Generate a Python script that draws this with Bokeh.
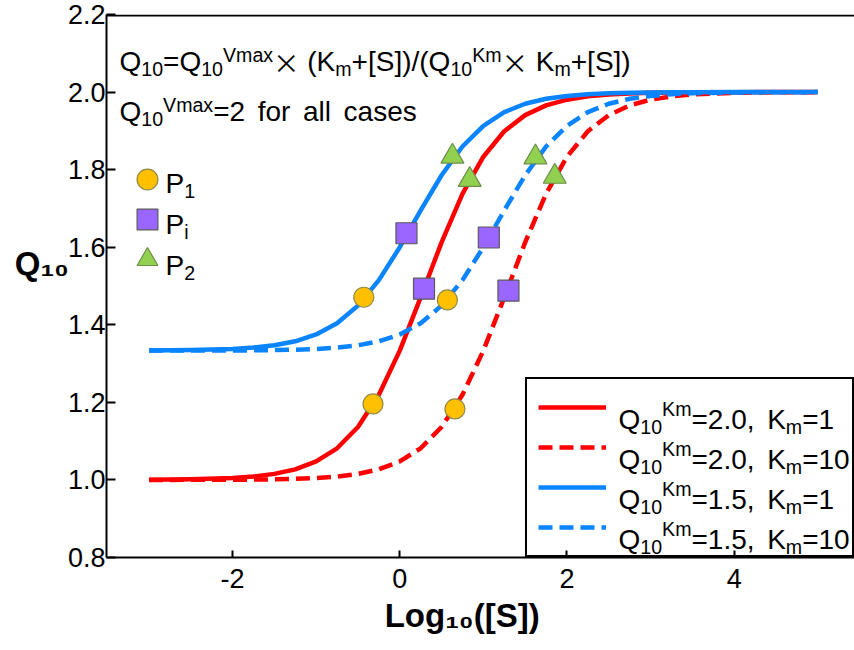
from bokeh.plotting import figure
from bokeh.models import (Range1d, Label, Legend, LegendItem, Span,
                          FixedTicker, NumeralTickFormatter)
from bokeh.embed import file_html
from bokeh.resources import INLINE

# ---------------- data ----------------
log_s = [-3.0, -2.5, -2.0, -1.75, -1.5, -1.25, -1.0, -0.75, -0.5, -0.25, 0.0, 0.25, 0.5, 0.75,
         1.0, 1.25, 1.5, 1.75, 2.0, 2.25, 2.5, 2.75, 3.0, 3.25, 3.5, 4.0, 4.5, 5.0]
q_km20_k1 = [1.0005, 1.0016, 1.0050, 1.0088, 1.0156, 1.0273, 1.0476, 1.0816, 1.1365, 1.2194,
             1.3333, 1.4706, 1.6126, 1.7376, 1.8333, 1.8989, 1.9405, 1.9657, 1.9804, 1.9889,
             1.9937, 1.9965, 1.9980, 1.9989, 1.9994, 1.9998, 1.9999, 2.0000]
q_km20_k10 = [1.0000, 1.0002, 1.0005, 1.0009, 1.0016, 1.0028, 1.0050, 1.0088, 1.0156, 1.0273,
              1.0476, 1.0816, 1.1365, 1.2194, 1.3333, 1.4706, 1.6126, 1.7376, 1.8333, 1.8989,
              1.9405, 1.9657, 1.9804, 1.9889, 1.9937, 1.9980, 1.9994, 1.9998]
q_km15_k1 = [1.3338, 1.3347, 1.3377, 1.3412, 1.3471, 1.3574, 1.3750, 1.4040, 1.4494, 1.5151,
             1.6000, 1.6949, 1.7855, 1.8596, 1.9130, 1.9481, 1.9698, 1.9827, 1.9901, 1.9944,
             1.9969, 1.9982, 1.9990, 1.9994, 1.9997, 1.9999, 2.0000, 2.0000]
q_km15_k10 = [1.3334, 1.3335, 1.3338, 1.3341, 1.3347, 1.3357, 1.3377, 1.3412, 1.3471, 1.3574,
              1.3750, 1.4040, 1.4494, 1.5151, 1.6000, 1.6949, 1.7855, 1.8596, 1.9130, 1.9481,
              1.9698, 1.9827, 1.9901, 1.9944, 1.9969, 1.9990, 1.9997, 1.9999]

p1_x = [-0.43, 0.57, -0.32, 0.66]
p1_y = [1.471, 1.464, 1.196, 1.183]
pi_x = [0.08, 0.29, 1.065, 1.30]
pi_y = [1.636, 1.493, 1.625, 1.488]
p2_x = [0.63, 0.837, 1.623, 1.854]
p2_y = [1.834, 1.774, 1.832, 1.782]

x_ticks = [-2, 0, 2, 4]
x_tick_labels = ["-2", "0", "2", "4"]
y_ticks = [0.8, 1.0, 1.2, 1.4, 1.6, 1.8, 2.0, 2.2]

# ---------------- figure ----------------
W, H = 854, 644
FL, FT = 106, 14          # frame left / top inside canvas
FW, FH = W - FL, 543      # frame size
XS = -3.508
XE = XS + FW / 83.6
YS, YE = 0.8, 2.2

p = figure(width=W, height=H, output_backend="svg", toolbar_location=None,
           x_range=Range1d(XS, XE), y_range=Range1d(YS, YE),
           min_border_left=FL, min_border_right=0, min_border_top=FT,
           min_border_bottom=H - FT - FH)
p.outline_line_color = None
p.xgrid.visible = False
p.ygrid.visible = False
p.background_fill_color = "white"
p.border_fill_color = "white"

for ax in (p.xaxis[0], p.yaxis[0]):
    ax.axis_line_width = 2
    ax.axis_line_color = "black"
    ax.major_tick_line_width = 2
    ax.major_tick_line_color = "black"
    ax.minor_tick_line_color = None
    ax.major_tick_out = 0
    ax.major_label_text_font = "Liberation Sans"
    ax.major_label_text_font_size = "27px"
    ax.major_label_text_color = "black"
    ax.axis_label_text_font = "Liberation Sans"
    ax.axis_label_text_font_style = "bold"
    ax.axis_label_text_font_size = "33px"
    ax.axis_label_text_color = "black"

p.xaxis.ticker = FixedTicker(ticks=x_ticks)
p.xaxis.major_label_overrides = dict(zip(x_ticks, x_tick_labels))
p.xaxis.major_tick_in = 7
p.xaxis.major_label_standoff = 11
p.xaxis.axis_label = "Log\u2081\u2080([S])" + "\u00a0" * 4
p.xaxis.axis_label_standoff = 6
p.yaxis.ticker = FixedTicker(ticks=y_ticks)
p.yaxis.formatter = NumeralTickFormatter(format="0.0")
p.yaxis.major_tick_in = 9
p.yaxis.major_label_standoff = 1
p.yaxis.axis_label = "Q\u2081\u2080\n\u00a0"
p.yaxis.axis_label_orientation = "horizontal"
p.yaxis.axis_label_standoff = -4

# top frame line (1 px inside the frame so that it is not clipped)
p.add_layout(Span(location=YE - 1.0 * (YE - YS) / FH, dimension="width",
                  line_color="black", line_width=2))

RED, BLUE = "#FF0000", "#0A84FF"
DASH = "14 7"
r1 = p.line(log_s, q_km20_k1, line_color=RED, line_width=4.5, line_join="round")
r2 = p.line(log_s, q_km20_k10, line_color=RED, line_width=4.5, line_dash=DASH)
r4 = p.line(log_s, q_km15_k10, line_color=BLUE, line_width=4.5, line_dash=DASH)
r3 = p.line(log_s, q_km15_k1, line_color=BLUE, line_width=4.5, line_join="round")

s1 = p.scatter(p1_x, p1_y, marker="circle", size=20, fill_color="#FFC000",
               line_color="#8F8A4A", line_width=1.2)
s2 = p.scatter(pi_x, pi_y, marker="square", size=21, fill_color="#9966FF",
               line_color="#5A5A5A", line_width=1.2)
s3 = p.scatter(p2_x, p2_y, marker="triangle", size=23, fill_color="#92D050",
               line_color="#6E8E4A", line_width=1.2)

# line legend (labels drawn separately to allow sub/superscripts)
leg = Legend(items=[LegendItem(label=" ", renderers=[r]) for r in (r1, r2, r3, r4)],
             location="bottom_right", margin=0, padding=11, spacing=6,
             glyph_width=68, glyph_height=34, label_height=34, label_width=225,
             label_standoff=10, label_text_font_size="2px",
             border_line_color="black", border_line_width=2, border_line_alpha=1.0,
             background_fill_color="white", background_fill_alpha=0.0)
p.add_layout(leg)

# marker key
for r, cy in ((s1, 179.0), (s2, 219.3), (s3, 258.7)):
    lg = Legend(items=[LegendItem(label=" ", renderers=[r])],
                location=(14.5, (FT + FH) - cy - 26), margin=0, padding=0,
                glyph_width=52, glyph_height=52, label_height=10, label_width=2,
                label_text_font_size="2px", border_line_color=None,
                background_fill_alpha=0.0)
    p.add_layout(lg)

# ---------------- rich text helper ----------------
REG = {' ': 278, '(': 333, ')': 333, '+': 584, ',': 278, '-': 333, '.': 278, '/': 278,
       '=': 584, '[': 278, ']': 278, 'K': 667, 'P': 667, 'Q': 778, 'S': 667, 'V': 667,
       'a': 556, 'c': 500, 'e': 556, 'f': 278, 'i': 222, 'l': 222, 'm': 833, 'o': 556,
       'r': 333, 's': 500, 'x': 500}


def tw(s, size):
    return sum(REG.get(c, 556) for c in s) * size / 1000.0


def px2x(px):
    return XS + (px - FL) * (XE - XS) / FW


def px2y(py):
    return YE - (py - FT) * (YE - YS) / FH


def rich(runs, x0, base, size, small=0.7, sub_dy=0.28, sup_dy=0.30, space=0.45, times_adv=1.0):
    x = x0
    for text, kind in runs:
        if kind == "s":
            x += space * size
            continue
        if kind == "x":
            p.add_layout(Label(x=px2x(x), y=px2y(base), text=text, text_font="Noto Sans CJK SC",
                               text_font_size=f"{size * 0.95:.1f}px", text_color="black",
                               text_align="left", text_baseline="alphabetic"))
            x += size * times_adv
            continue
        fs = size if kind == "n" else size * small
        dy = 0.0 if kind == "n" else (sub_dy * size if kind == "b" else -sup_dy * size)
        p.add_layout(Label(x=px2x(x), y=px2y(base + dy), text=text, text_font="Liberation Sans",
                           text_font_size=f"{fs:.1f}px", text_color="black",
                           text_align="left", text_baseline="alphabetic"))
        x += tw(text, fs)


N = 28
rich([("Q", "n"), ("10", "b"), ("=Q", "n"), ("10", "b"), ("Vmax", "p"), ("×", "x"),
      ("(K", "n"), ("m", "b"), ("+[S])/(Q", "n"), ("10", "b"), ("Km", "p"), ("×", "x"),
      ("K", "n"), ("m", "b"), ("+[S])", "n")], 119, 61, N, sup_dy=0.24, times_adv=1.22)
rich([("Q", "n"), ("10", "b"), ("Vmax", "p"), ("=2", "n"), (" ", "s"), ("for", "n"),
      (" ", "s"), ("all", "n"), (" ", "s"), ("cases", "n")], 119, 111, N, sup_dy=0.24)

for sub, base in (("1", 183), ("i", 224), ("2", 265)):
    rich([("P", "n"), (sub, "b")], 165, base, N)

legend_rows = [("2.0", "1"), ("2.0", "10"), ("1.5", "1"), ("1.5", "10")]
for i, (q, km) in enumerate(legend_rows):
    base = 419 + 40 * i
    rich([("Q", "n"), ("10", "b"), ("Km", "p"), ("=" + q + ",", "n"), (" ", "s"),
          ("K", "n"), ("m", "b"), ("=" + km, "n")], 618, base, N, sup_dy=0.36)

open("out.html", "w").write(file_html(p, INLINE))
